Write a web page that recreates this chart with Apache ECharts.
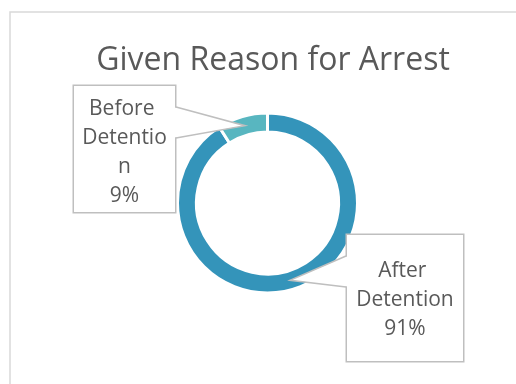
<!DOCTYPE html>
<html>
<head>
<meta charset="utf-8">
<script src="https://cdn.jsdelivr.net/npm/echarts@6/dist/echarts.min.js"></script>
<style>
  html, body { margin: 0; padding: 0; background: #ffffff; }
  #chart { width: 516px; height: 384px; }
</style>
</head>
<body>
<div id="chart"></div>
<script>
// Chart content
const titleText = 'Given Reason for Arrest';
const categories = ['After Detention', 'Before Detention'];
const shares = [91, 9];

// Look and layout
const sliceColors = ['#3494BA', '#58B6C0'];
const textColor = '#595959';
const fontFamily = '"Open Sans", sans-serif';
const CENTER = [267.5, 203];
const RADIUS = [71, 90];
const LINE_H = 29;
// Callout boxes (left, top, width, height) and the wedge base offsets from the box top
const boxes = [
  { x: 346, y: 235, w: 118, h: 126, side: 'left', base: [21, 52] },
  { x: 73,  y: 86,  w: 103, h: 126, side: 'right', base: [21, 52] }
];
const labelPadding = [
  [22, 6, 17, 6],
  [9, 6, 1, 6]
];
const boxBorder = '#BFBFBF';

const total = shares.reduce((a, b) => a + b, 0);

// Point in the middle of the ring at the middle angle of slice i (clockwise from 12 o'clock)
function tipPoint(i) {
  const start = shares.slice(0, i).reduce((a, b) => a + b, 0);
  const mid = (start + shares[i] / 2) / total * Math.PI * 2;
  const r = (RADIUS[0] + RADIUS[1]) / 2;
  return [CENTER[0] + r * Math.sin(mid), CENTER[1] - r * Math.cos(mid)];
}

// Wedge joining each callout box to its slice
function calloutWedges() {
  const els = [];
  boxes.forEach((b, i) => {
    const tip = tipPoint(i);
    const ex = b.side === 'left' ? b.x : b.x + b.w;
    const inward = b.side === 'left' ? 2 : -2;
    const y1 = b.y + b.base[0];
    const y2 = b.y + b.base[1];
    els.push({
      type: 'polygon', z: 10, silent: true,
      shape: { points: [[ex + inward, y1 + 0.8], [ex - inward / 2, y1 + 0.8], tip, [ex - inward / 2, y2 - 0.8], [ex + inward, y2 - 0.8]] },
      style: { fill: '#ffffff', stroke: null }
    });
    els.push({
      type: 'polyline', z: 11, silent: true,
      shape: { points: [[ex, y1], tip, [ex, y2]] },
      style: { fill: null, stroke: boxBorder, lineWidth: 1.5 }
    });
  });
  return els;
}

const pieData = categories.map((name, i) => ({
  name: name,
  value: shares[i],
  itemStyle: { color: sliceColors[i] },
  label: { padding: labelPadding[i], width: boxes[i].w - labelPadding[i][1] - labelPadding[i][3] - 2 }
}));

const chart = echarts.init(document.getElementById('chart'), null, { renderer: 'canvas' });
chart.setOption({
  animation: false,
  backgroundColor: '#ffffff',
  title: {
    text: titleText,
    left: 268,
    top: 36,
    textAlign: 'center',
    textStyle: { fontFamily: fontFamily, fontSize: 32, fontWeight: 'normal', color: textColor, lineHeight: 40 }
  },
  graphic: [
    {
      type: 'rect', z: -1, silent: true,
      shape: { x: 10, y: 12, width: 620, height: 500 },
      style: { fill: 'none', stroke: '#D9D9D9', lineWidth: 1.5 }
    }
  ].concat(calloutWedges()),
  series: [{
    type: 'pie',
    z: 2,
    center: CENTER,
    radius: RADIUS,
    startAngle: 90,
    clockwise: true,
    avoidLabelOverlap: false,
    silent: true,
    itemStyle: { borderColor: '#ffffff', borderWidth: 3 },
    label: {
      show: true,
      position: 'outside',
      formatter: p => p.name + '\n' + Math.round(p.percent) + '%',
      fontFamily: fontFamily,
      fontSize: 21,
      lineHeight: LINE_H,
      color: textColor,
      overflow: 'break',
      align: 'center',
      backgroundColor: '#ffffff',
      borderColor: boxBorder,
      borderWidth: 1.5
    },
    labelLine: { show: false },
    labelLayout: params => {
      const b = boxes[params.dataIndex];
      return { x: b.x + b.w / 2, y: b.y, align: 'center', verticalAlign: 'top' };
    },
    data: pieData
  }]
});
</script>
</body>
</html>
